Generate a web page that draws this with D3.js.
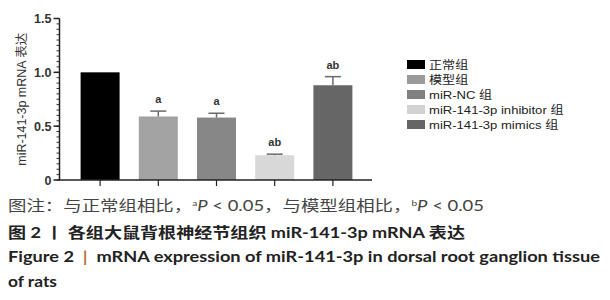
<!DOCTYPE html>
<html>
<head>
<meta charset="utf-8">
<script src="https://cdn.jsdelivr.net/npm/d3@7"></script>
<style>
  body { margin: 0; background: #fff; }
  svg { display: block; }
</style>
</head>
<body>
<svg id="svg"></svg>
<script>
const W = 610, H = 300;

// data
const groups = ["正常组", "模型组", "miR-NC 组", "miR-141-3p inhibitor 组", "miR-141-3p mimics 组"];
const means = [1.0, 0.59, 0.58, 0.23, 0.88];
const errs = [0, 0.05, 0.04, 0.01, 0.08];
const marks = ["", "a", "a", "ab", "ab"];
const colors = ["#000000", "#a3a3a3", "#878787", "#d8d8d8", "#666666"];
const legendColors = ["#000000", "#9a9a9a", "#808080", "#d2d2d2", "#656565"];
const yTicks = [0, 0.5, 1.0, 1.5];
const yTickLabels = ["0", "0.5", "1.0", "1.5"];

const svg = d3.select("#svg").attr("width", W).attr("height", H);
const latin = "'Liberation Sans', Arial, sans-serif";
const cjk = "'Liberation Sans', 'Noto Sans CJK SC', sans-serif";

const y = d3.scaleLinear().domain([0, 1.5]).range([180, 18.5]);
const x = d3.scaleBand().domain(groups).range([71, 362]).paddingInner(0.33).paddingOuter(0.165);

const axisX = 59.5;

// y axis: minor ticks
const minor = d3.range(0, 1.5001, 0.05);
svg.append("g").selectAll("line").data(minor).join("line")
    .attr("x1", axisX - 3).attr("x2", axisX)
    .attr("y1", d => y(d)).attr("y2", d => y(d))
    .attr("stroke", "#333").attr("stroke-width", 1);

svg.append("g").selectAll("line").data(yTicks).join("line")
    .attr("x1", axisX - 6).attr("x2", axisX)
    .attr("y1", d => y(d)).attr("y2", d => y(d))
    .attr("stroke", "#222").attr("stroke-width", 1.5);

svg.append("line")
    .attr("x1", axisX).attr("x2", axisX)
    .attr("y1", y(1.5)).attr("y2", y(0))
    .attr("stroke", "#222").attr("stroke-width", 1.5);

svg.append("g").selectAll("text").data(yTicks).join("text")
    .attr("x", axisX - 8).attr("y", d => y(d) + 4.5)
    .attr("text-anchor", "end")
    .style("font-family", latin).style("font-size", "12.5px").style("font-weight", "bold")
    .attr("fill", "#333")
    .text((d, i) => yTickLabels[i]);

svg.append("text")
    .attr("transform", "translate(25.5," + y(0.75) + ") rotate(-90)")
    .attr("text-anchor", "middle")
    .attr("textLength", 133).attr("lengthAdjust", "spacingAndGlyphs")
    .style("font-family", cjk).style("font-size", "12px")
    .attr("fill", "#333")
    .text("miR-141-3p mRNA 表达");

// bars
svg.append("g").selectAll("rect").data(groups).join("rect")
    .attr("x", d => x(d)).attr("width", x.bandwidth())
    .attr("y", (d, i) => y(means[i]))
    .attr("height", (d, i) => y(0) - y(means[i]))
    .attr("fill", (d, i) => colors[i]);

// error bars
const eb = svg.append("g").attr("stroke", "#6a6a6a").attr("stroke-width", 1.5);
groups.forEach((g, i) => {
    if (!errs[i]) return;
    const cx = x(g) + x.bandwidth() / 2;
    eb.append("line").attr("x1", cx).attr("x2", cx)
        .attr("y1", y(means[i])).attr("y2", y(means[i] + errs[i]));
    eb.append("line").attr("x1", cx - 8).attr("x2", cx + 8)
        .attr("y1", y(means[i] + errs[i])).attr("y2", y(means[i] + errs[i]));
});

svg.append("g").selectAll("text").data(groups).join("text")
    .attr("x", d => x(d) + x.bandwidth() / 2)
    .attr("y", (d, i) => y(means[i] + errs[i]) - 8)
    .attr("text-anchor", "middle")
    .style("font-family", latin).style("font-size", "11px").style("font-weight", "bold")
    .attr("fill", "#333")
    .text((d, i) => marks[i]);

// x axis
svg.append("line")
    .attr("x1", axisX - 0.75).attr("x2", 372)
    .attr("y1", y(0)).attr("y2", y(0))
    .attr("stroke", "#222").attr("stroke-width", 1.5);
svg.append("g").selectAll("line").data(groups).join("line")
    .attr("x1", d => x(d) + x.bandwidth() / 2).attr("x2", d => x(d) + x.bandwidth() / 2)
    .attr("y1", y(0)).attr("y2", y(0) + 6)
    .attr("stroke", "#222").attr("stroke-width", 1.2);

// legend
const lg = svg.append("g").attr("transform", "translate(407,59)");
const row = lg.selectAll("g").data(groups).join("g")
    .attr("transform", (d, i) => "translate(0," + (i * 15) + ")");
row.append("rect").attr("width", 18).attr("height", 9).attr("y", 1)
    .attr("fill", (d, i) => legendColors[i]);
row.append("text")
    .attr("transform", "translate(22,10) scale(1.19,1)")
    .style("font-family", cjk).style("font-size", "11px")
    .attr("fill", "#222")
    .text(d => d);

// caption
const capFont = "Lato, 'Noto Sans CJK SC', sans-serif";
const c1 = svg.append("text").attr("x", 8).attr("y", 211)
    .attr("textLength", 476).attr("lengthAdjust", "spacingAndGlyphs")
    .style("font-family", capFont).style("font-size", "14.5px")
    .attr("fill", "#444");
c1.append("tspan").text("图注：与正常组相比，");
c1.append("tspan").attr("dy", -5).style("font-size", "8px").text("a");
c1.append("tspan").attr("dy", 5).style("font-style", "italic").text("P");
c1.append("tspan").text("\u00a0<\u00a00.05，与模型组相比，");
c1.append("tspan").attr("dy", -5).style("font-size", "8px").text("b");
c1.append("tspan").attr("dy", 5).style("font-style", "italic").text("P");
c1.append("tspan").text("\u00a0<\u00a00.05");

svg.append("text").attr("x", 8).attr("y", 238)
    .attr("textLength", 457).attr("lengthAdjust", "spacingAndGlyphs")
    .style("font-family", capFont).style("font-size", "14.5px").style("font-weight", "bold")
    .attr("fill", "#222")
    .text("图 2 丨 各组大鼠背根神经节组织 miR-141-3p mRNA 表达");

const c3 = svg.append("text").attr("x", 8).attr("y", 262)
    .attr("textLength", 592).attr("lengthAdjust", "spacingAndGlyphs")
    .style("font-family", capFont).style("font-size", "15px").style("font-weight", "bold")
    .attr("fill", "#222");
c3.append("tspan").text("Figure 2\u00a0\u00a0");
c3.append("tspan").attr("fill", "#b0703a").text("|");
c3.append("tspan").text("\u00a0\u00a0mRNA expression of miR-141-3p in dorsal root ganglion tissue");

svg.append("text").attr("x", 8).attr("y", 287)
    .attr("textLength", 49).attr("lengthAdjust", "spacingAndGlyphs")
    .style("font-family", capFont).style("font-size", "15px").style("font-weight", "bold")
    .attr("fill", "#222")
    .text("of rats");
</script>
</body>
</html>
